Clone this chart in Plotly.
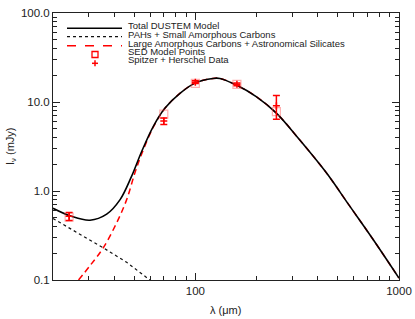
import plotly.graph_objects as go

# Total DUSTEM model
total_wave = [20, 24.6, 30.4, 36.7, 42.7, 48.6, 54.5, 62.1, 70.8, 84, 100, 122, 132, 159, 199, 250, 325, 440, 572, 745, 1000]
total_flux = [0.64, 0.52, 0.47, 0.55, 0.80, 1.46, 2.78, 5.3, 8.5, 12.5, 16.4, 18.4, 18.4, 15.5, 11.5, 7.5, 3.76, 1.6, 0.68, 0.287, 0.105]

# PAHs + small amorphous carbons
pah_wave = [20, 28.2, 35.3, 46, 59.8]
pah_flux = [0.49, 0.31, 0.23, 0.158, 0.1]

# Large amorphous carbons + astronomical silicates
big_wave = [26.7, 30.4, 35.3, 41.1, 46, 50.5, 54.5, 62.1, 70.8, 84, 100, 122, 132, 159, 199, 250, 325, 440, 572, 745, 1000]
big_flux = [0.1, 0.145, 0.23, 0.44, 0.80, 1.6, 2.6, 5.2, 8.45, 12.5, 16.4, 18.4, 18.4, 15.5, 11.5, 7.5, 3.76, 1.6, 0.68, 0.287, 0.105]

# Observations
obs_wave = [24, 70, 100, 160, 250]
obs_flux = [0.52, 6.1, 16.7, 15.8, 9.1]
obs_err = [0.055, 0.5, 0.6, 0.6, 2.7]
model_pts = [0.51, 7.3, 16.2, 15.8, 7.8]

legend_labels = ["Total DUSTEM Model", "PAHs + Small Amorphous Carbons",
                 "Large Amorphous Carbons + Astronomical Silicates",
                 "SED Model Points", "Spitzer + Herschel Data"]

x_minor = [30, 40, 50, 60, 70, 80, 90, 200, 300, 400, 500, 600, 700, 800, 900]
y_minor = [0.2, 0.3, 0.4, 0.5, 0.6, 0.7, 0.8, 0.9, 2, 3, 4, 5, 6, 7, 8, 9,
           20, 30, 40, 50, 60, 70, 80, 90]

FONT = "Liberation Sans"
INK = "#222222"

fig = go.Figure()
fig.add_trace(go.Scatter(x=pah_wave, y=pah_flux, mode="lines",
                         line=dict(color="#111111", width=1.2, dash="dot"), showlegend=False))
fig.add_trace(go.Scatter(x=big_wave, y=big_flux, mode="lines", line_shape="spline",
                         line=dict(color="#ff0000", width=1.5, dash="6px,4px"), showlegend=False))
fig.add_trace(go.Scatter(x=total_wave, y=total_flux, mode="lines", line_shape="spline",
                         line=dict(color="#000000", width=1.6), showlegend=False))
fig.add_trace(go.Scatter(x=obs_wave, y=model_pts, mode="markers",
                         marker=dict(symbol="square-open", size=8,
                                     line=dict(color="rgba(255,80,80,0.45)", width=1.2),
                                     color="rgba(255,80,80,0.45)"), showlegend=False))
fig.add_trace(go.Scatter(x=obs_wave, y=obs_flux, mode="markers",
                         marker=dict(symbol="cross-thin", size=5, color="red",
                                     line=dict(color="red", width=1.5)),
                         error_y=dict(type="data", array=obs_err, color="red", thickness=1.5, width=3.5),
                         showlegend=False))

# manual legend (paper coords); plot area px: x 53..399, y 13..280
def px2x(px):
    return (px - 53) / 346.0

def py2y(py):
    return (280 - py) / 267.0

shapes = []
line_rows = [28.3, 36.7, 45.7]
styles = [dict(color="#000000", width=1.6), dict(color="#111111", width=1.2, dash="dot"),
          dict(color="#ff0000", width=1.5, dash="dash")]
for ry, st in zip(line_rows, styles):
    shapes.append(dict(type="line", xref="paper", yref="paper", x0=px2x(67), x1=px2x(122),
                       y0=py2y(ry), y1=py2y(ry), line=st))
shapes.append(dict(type="rect", xref="paper", yref="paper", x0=px2x(92), x1=px2x(98),
                   y0=py2y(57.5), y1=py2y(51.5), line=dict(color="red", width=1.3)))
shapes.append(dict(type="line", xref="paper", yref="paper", x0=px2x(92), x1=px2x(98),
                   y0=py2y(63.3), y1=py2y(63.3), line=dict(color="red", width=1.5)))
shapes.append(dict(type="line", xref="paper", yref="paper", x0=px2x(95), x1=px2x(95),
                   y0=py2y(60.3), y1=py2y(66.3), line=dict(color="red", width=1.5)))

annotations = []
text_rows = [25.8, 34.3, 43.0, 51.5, 60.0]
for ty, lab in zip(text_rows, legend_labels):
    annotations.append(dict(text=lab, xref="paper", yref="paper", x=px2x(127), y=py2y(ty),
                            xanchor="left", yanchor="middle", showarrow=False, borderpad=0,
                            font=dict(family=FONT, size=9.5, color=INK)))
# axis titles
annotations.append(dict(text="λ (μm)", xref="paper", yref="paper", x=px2x(225), y=py2y(310),
                        xanchor="center", yanchor="middle", showarrow=False,
                        font=dict(family=FONT, size=11, color=INK)))
annotations.append(dict(text="I<sub>ν</sub> (mJy)", xref="paper", yref="paper", x=px2x(11),
                        y=py2y(147), xanchor="center", yanchor="middle", showarrow=False,
                        textangle=-90, font=dict(family=FONT, size=11, color=INK)))

axis_common = dict(type="log", showgrid=False, zeroline=False, showline=True, automargin=False,
                   linecolor=INK, linewidth=1, mirror="ticks", ticks="inside",
                   ticklen=7, tickcolor=INK, tickwidth=1, ticklabeloverflow="allow",
                   tickfont=dict(family=FONT, size=11.5, color=INK))

fig.update_layout(
    template="none",
    width=415, height=319,
    margin=dict(l=53, r=16, t=13, b=39, pad=0),
    paper_bgcolor="white", plot_bgcolor="white",
    shapes=shapes, annotations=annotations,
    xaxis=dict(axis_common, range=[1.30103, 3], tickmode="array", tickvals=[100, 1000],
               ticktext=["100", "1000"],
               minor=dict(tickmode="array", tickvals=x_minor, ticks="inside", ticklen=4,
                          tickcolor=INK, tickwidth=1, showgrid=False)),
    yaxis=dict(axis_common, range=[-1, 2], tickmode="array", tickvals=[0.1, 1, 10, 100],
               ticktext=["0.1", "1.0", "10.0", "100.0"],
               minor=dict(tickmode="array", tickvals=y_minor, ticks="inside", ticklen=4,
                          tickcolor=INK, tickwidth=1, showgrid=False)),
)

# remove the browser's default 8px page margin so the 415x319 figure fills the window exactly
fig.write_html("out.html", config={"displayModeBar": False},
               post_script="document.body.style.margin='0';document.body.style.overflow='hidden';")
